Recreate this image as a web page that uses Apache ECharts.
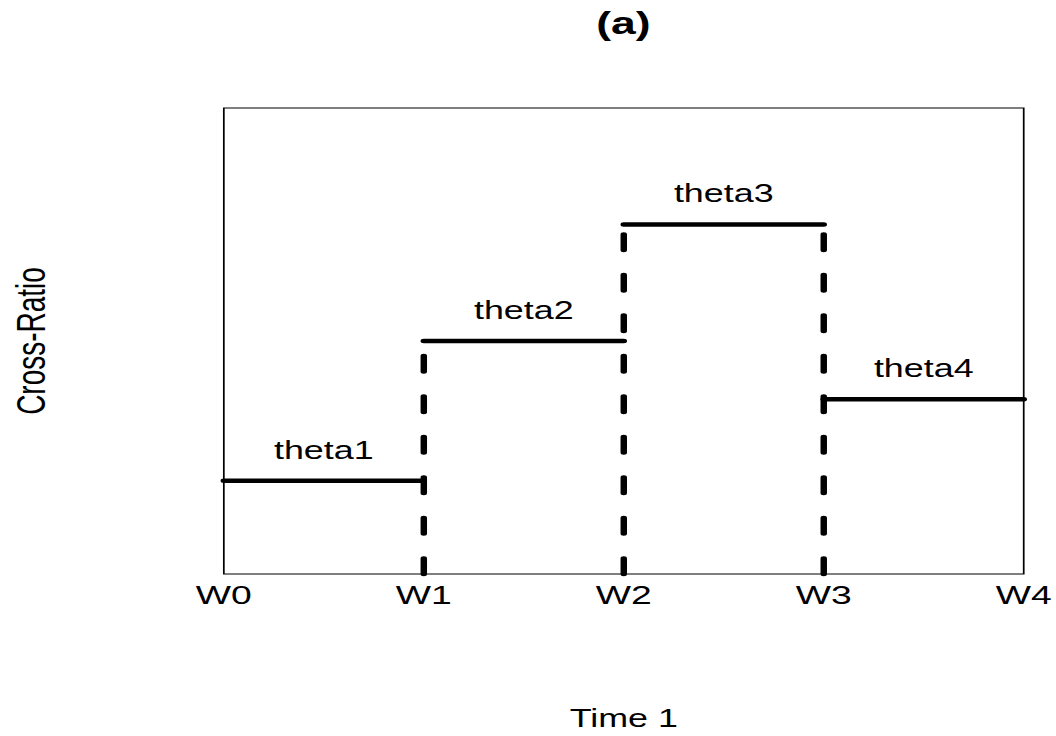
<!DOCTYPE html>
<html>
<head>
<meta charset="utf-8">
<script src="https://cdn.jsdelivr.net/npm/echarts@6/dist/echarts.min.js"></script>
<style>
  html, body { margin: 0; padding: 0; background: #fff; overflow: hidden; }
  #wrap { width: 1056px; height: 736px; overflow: hidden; }
  #chart { width: 736px; height: 736px; transform: scaleX(1.434783); transform-origin: 0 0; }
</style>
</head>
<body>
<div id="wrap"><div id="chart"></div></div>
<script>
// Tick labels on the time axis
const tickLabels = ['W0', 'W1', 'W2', 'W3', 'W4'];
// Segment names and their cross-ratio levels (one per interval)
const thetaNames = ['theta1', 'theta2', 'theta3', 'theta4'];
const thetaValues = [0.2, 0.5, 0.75, 0.375];

const FONT = '"Liberation Sans", Arial, Helvetica, sans-serif';

const series = [];
// horizontal solid segments
thetaValues.forEach(function (v, i) {
  series.push({
    type: 'line', symbol: 'none', clip: false, silent: true,
    data: [[i, v], [i + 1, v]],
    lineStyle: { color: '#000', width: 4.5, cap: 'round' },
    z: 2
  });
});
// vertical dashed change-points
for (let j = 1; j < thetaValues.length; j++) {
  const top = Math.max(thetaValues[j - 1], thetaValues[j]);
  series.push({
    type: 'line', symbol: 'none', clip: false, silent: true,
    data: [[j, 0], [j, top]],
    lineStyle: { color: '#000', width: 4.5, type: [15.5, 25], cap: 'round' },
    z: 3
  });
}
// segment labels
series.push({
  type: 'custom', silent: true, clip: false,
  data: thetaValues.map(function (v, i) { return [i + 0.5, v, i]; }),
  renderItem: function (params, api) {
    const p = api.coord([api.value(0), api.value(1)]);
    return {
      type: 'text', x: p[0], y: p[1] - 18,
      style: {
        text: thetaNames[api.value(2)], fill: '#000',
        font: '25px ' + FONT, align: 'center', verticalAlign: 'bottom'
      }
    };
  },
  z: 4
});

const chart = echarts.init(document.getElementById('chart'), null, { renderer: 'svg' });
chart.setOption({
  animation: false,
  backgroundColor: '#fff',
  title: {
    text: '(a)', left: 415.5, top: 8, padding: 0,
    textStyle: { fontFamily: FONT, fontSize: 31, fontWeight: 'bold', color: '#000' }
  },
  grid: {
    left: 154.7, right: 21.6, top: 108, bottom: 162,
    show: true, borderColor: '#000', borderWidth: 1.2, backgroundColor: 'transparent'
  },
  xAxis: {
    type: 'value', min: 0, max: 4, interval: 1,
    name: 'Time 1', nameLocation: 'middle', nameGap: 132,
    nameTextStyle: { fontFamily: FONT, fontSize: 25, color: '#000' },
    axisLine: { show: false }, axisTick: { show: false }, splitLine: { show: false },
    axisLabel: {
      margin: 8, fontFamily: FONT, fontSize: 26, color: '#000',
      formatter: function (v) { return tickLabels[Math.round(v)]; }
    }
  },
  yAxis: {
    type: 'value', min: 0, max: 1,
    name: 'Cross-Ratio', nameLocation: 'middle', nameGap: 120, nameRotate: 90,
    nameTextStyle: { fontFamily: FONT, fontSize: 28, color: '#000' },
    axisLine: { show: false }, axisTick: { show: false }, splitLine: { show: false },
    axisLabel: { show: false }
  },
  series: series
});
</script>
</body>
</html>
